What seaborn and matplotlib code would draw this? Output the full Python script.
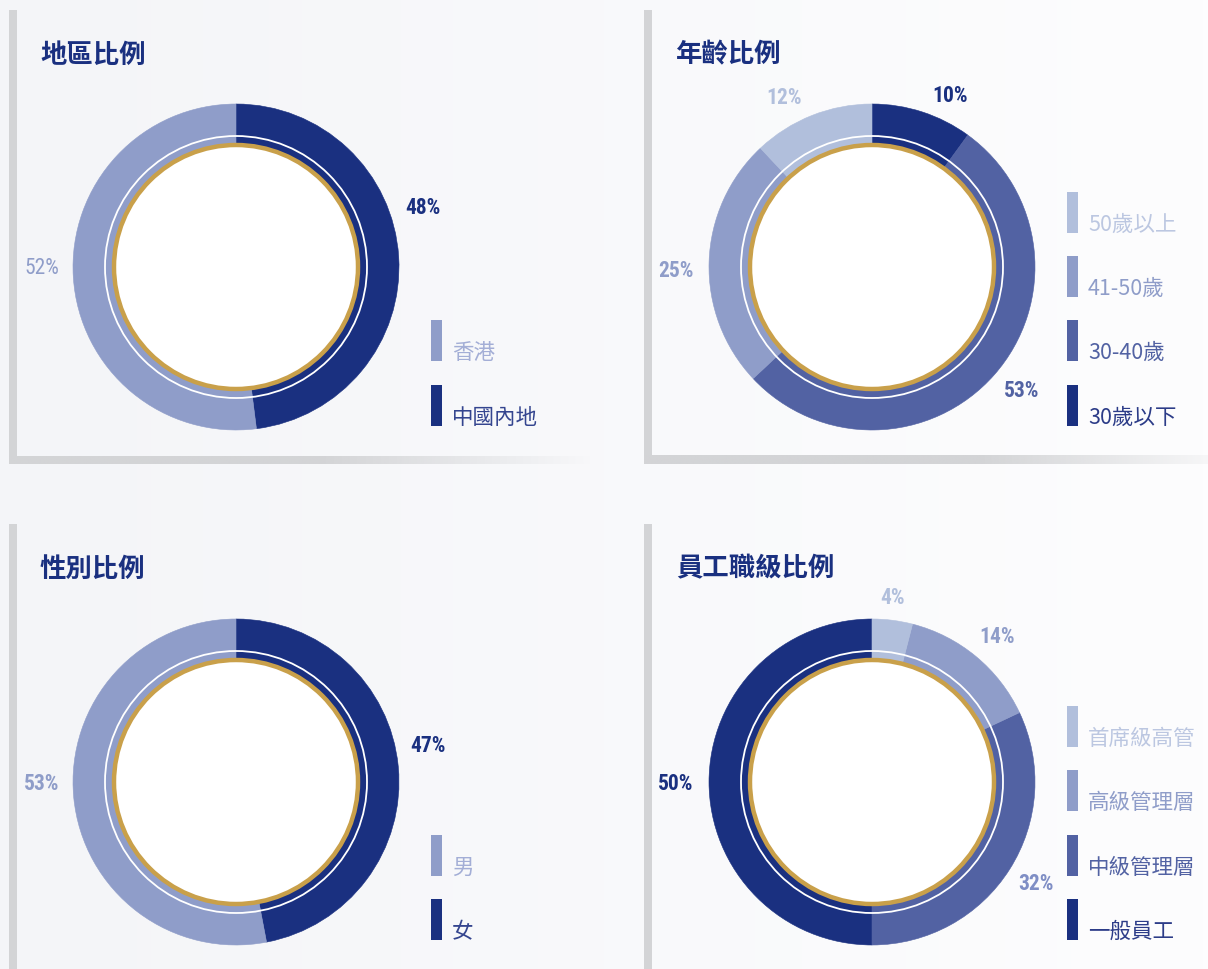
import numpy as np
import matplotlib
matplotlib.use("Agg")
import matplotlib.pyplot as plt
from matplotlib import font_manager as fm
from matplotlib.patches import Circle, Rectangle
import seaborn as sns

# ---- data ----
titles = ["地區比例", "年齡比例", "性別比例", "員工職級比例"]

region_labels = ["香港", "中國內地"]
region_values = [52, 48]

age_labels = ["50歲以上", "41-50歲", "30-40歲", "30歲以下"]
age_values = [12, 25, 53, 10]

gender_labels = ["男", "女"]
gender_values = [53, 47]

rank_labels = ["首席級高管", "高級管理層", "中級管理層", "一般員工"]
rank_values = [4, 14, 32, 50]

# ---- styling ----
sns.set_theme(style="white")
plt.rcParams["font.family"] = ["Noto Sans CJK TC", "DejaVu Sans"]

NAVY, MID, LIGHT, PALE = "#1A3080", "#5262A3", "#8F9DC9", "#B1BFDC"
GOLD = "#C9A04A"
FRAME = np.array([211, 212, 214]) / 255

two_tone = sns.color_palette([LIGHT, NAVY])
four_tone = sns.color_palette([PALE, LIGHT, MID, NAVY])

installed = {f.name for f in fm.fontManager.ttflist}
NUM_FONT = next((f for f in ["Liberation Sans Narrow", "Roboto Condensed", "Roboto", "DejaVu Sans"]
                 if f in installed), "DejaVu Sans")

W, H = 1208, 969
fig = plt.figure(figsize=(W / 100, H / 100), dpi=100)


def fx(x):
    return x / W


def fy(y):
    return 1 - y / H


# ---- background and panel frames ----
bg = fig.add_axes([0, 0, 1, 1])
bg.set_xlim(0, W)
bg.set_ylim(H, 0)
bg.axis("off")
left_c = np.array([244, 245, 248]) / 255
right_c = np.array([253, 253, 254]) / 255
t = np.linspace(0, 1, 256)[None, :, None]
grad = left_c * (1 - t) + right_c * t
bg.imshow(grad, extent=(0, W, H, 0), aspect="auto", zorder=0)

for (x0, y0, h) in [(9, 10, 453), (644, 10, 454), (9, 524, 445), (644, 524, 445)]:
    bg.add_patch(Rectangle((x0, y0), 7.5, h, color=FRAME, lw=0, zorder=1))


def fading_bar(x0, x_fade, x1, y0, y1, end_alpha):
    xs = np.linspace(x0, x1, 400)
    a = np.where(xs < x_fade, 1.0, 1 - (1 - end_alpha) * (xs - x_fade) / (x1 - x_fade))
    img = np.zeros((1, len(xs), 4))
    img[..., :3] = FRAME
    img[0, :, 3] = a
    bg.imshow(img, extent=(x0, x1, y1, y0), aspect="auto", zorder=1)


fading_bar(9, 320, 592, 456, 463.5, 0.0)
fading_bar(644, 980, W, 456, 464, 0.15)
bg.set_xlim(0, W)
bg.set_ylim(H, 0)

# ---- donuts ----
R_OUT, R_MID, R_GOLD = 163, 131, 122
BOX = 185

panels = [
    dict(center=(236, 267), title_xy=(40, 55), labels=region_labels, values=region_values,
         colors=two_tone, text_colors=["#A3AED6", "#34458F"], clockwise=True,
         pct_xy=[(42, 268), (423, 208)], pct_colors=[LIGHT, NAVY], pct_weights=["normal", "bold"],
         legend_x=431, legend_tops=[320, 385]),
    dict(center=(872, 267), title_xy=(676, 55), labels=age_labels, values=age_values,
         colors=four_tone, text_colors=["#BCC7E1", "#8F9DC9", "#5262A3", "#2C3C88"], clockwise=True,
         pct_xy=[(784, 98), (676, 271), (1022, 391), (950, 96)],
         pct_colors=[PALE, LIGHT, MID, NAVY], pct_weights=["bold"] * 4,
         legend_x=1067, legend_tops=[192, 256, 320, 385]),
    dict(center=(236, 782), title_xy=(40, 569), labels=gender_labels, values=gender_values,
         colors=two_tone, text_colors=["#A3AED6", "#34458F"], clockwise=True,
         pct_xy=[(42, 784), (428, 746)], pct_colors=[LIGHT, NAVY], pct_weights=["bold"] * 2,
         legend_x=431, legend_tops=[835, 899]),
    dict(center=(872, 782), title_xy=(676, 569), labels=rank_labels, values=rank_values,
         colors=four_tone, text_colors=["#BCC7E1", "#8F9DC9", "#5262A3", "#2C3C88"], clockwise=False,
         pct_xy=[(893, 598), (997, 637), (1036, 884), (676, 784)],
         pct_colors=[PALE, LIGHT, "#7F8EC5", NAVY], pct_weights=["bold"] * 4,
         legend_x=1067, legend_tops=[706, 770, 835, 899]),
]


def seal_edges(wedges):
    for w in wedges:
        w.set_edgecolor(w.get_facecolor())
        w.set_linewidth(0.4)


for title, p in zip(titles, panels):
    cx, cy = p["center"]
    ax = fig.add_axes([fx(cx - BOX), fy(cy + BOX), 2 * BOX / W, 2 * BOX / H])
    vals = list(p["values"])[::-1]
    cols = list(p["colors"])[::-1]
    outer, _ = ax.pie(vals, radius=R_OUT, colors=cols, startangle=90,
                      counterclock=not p["clockwise"], wedgeprops=dict(width=R_OUT - R_MID))
    inner, _ = ax.pie(vals, radius=R_MID, colors=cols, startangle=90,
                      counterclock=not p["clockwise"], wedgeprops=dict(width=R_MID - R_GOLD + 2))
    seal_edges(outer)
    seal_edges(inner)
    ax.add_patch(Circle((0, 0), R_GOLD, facecolor="white", edgecolor=GOLD, lw=3.2, zorder=5))
    ax.add_patch(Circle((0, 0), R_MID, facecolor="none", edgecolor="white", lw=1.3, zorder=5))
    ax.set_xlim(-BOX, BOX)
    ax.set_ylim(-BOX, BOX)
    ax.set_aspect("equal")
    ax.axis("off")

    # title
    tx, ty = p["title_xy"]
    fig.text(fx(tx), fy(ty), title, fontsize=19, fontweight="bold", color=NAVY,
             ha="left", va="center")

    # percentage labels
    for v, (lx, ly), c, w in zip(p["values"], p["pct_xy"], p["pct_colors"], p["pct_weights"]):
        fig.text(fx(lx), fy(ly), f"{v}%", fontsize=15.5, fontweight=w, color=c,
                 family=[NUM_FONT, "DejaVu Sans"], ha="center", va="center")

    # legend
    lx0 = p["legend_x"]
    for lab, c, tc, top in zip(p["labels"], p["colors"], p["text_colors"], p["legend_tops"]):
        fig.patches.append(Rectangle((fx(lx0), fy(top + 41)), 11 / W, 41 / H,
                                     transform=fig.transFigure, color=c, lw=0, zorder=3))
        fig.text(fx(lx0 + 21), fy(top + 33), lab, fontsize=15.5, fontweight="light", color=tc,
                 ha="left", va="center")

fig.savefig("out.png", dpi=100)
